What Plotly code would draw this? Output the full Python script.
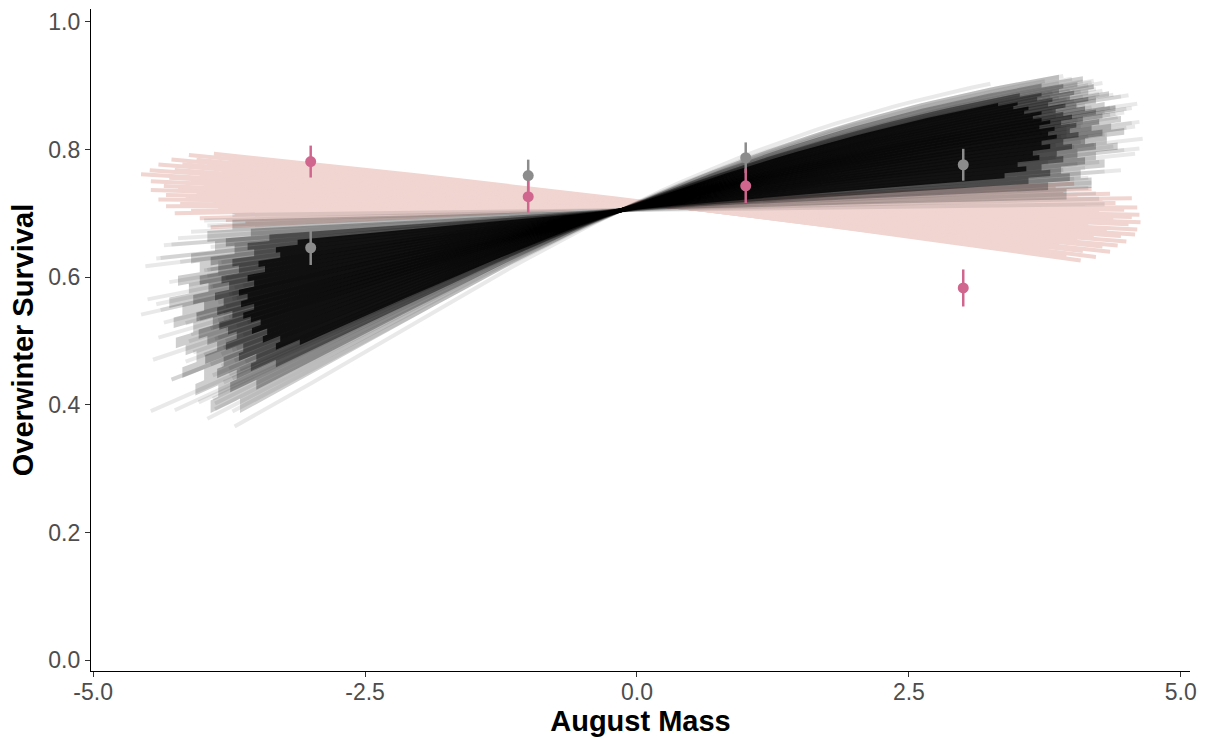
import numpy as np
import plotly.graph_objects as go

# ---------------- data ----------------
# observed means with error bars
obs_x = [-3, -1, 1, 3]
pink_obs_y = [0.781, 0.726, 0.743, 0.583]
pink_obs_err = [0.025, 0.025, 0.027, 0.029]
grey_obs_y = [0.646, 0.759, 0.787, 0.776]
grey_obs_err = [0.027, 0.025, 0.024, 0.025]

# posterior draws (logit scale: a + b*(x - centre)), with each draw's x-extent
centre_x = -0.15
black_a = 0.871
black_b = [0.19, 0.22, 0.15, 0.27, 0.11, 0.24, 0.18, 0.31, 0.09, 0.21,
           0.16, 0.26, 0.13, 0.20, 0.29, 0.07, 0.23, 0.17, 0.34, 0.12,
           0.25, 0.19, 0.05, 0.28, 0.14, 0.22, 0.36, 0.10, 0.18, 0.30,
           0.16, 0.03, 0.24, 0.20, 0.33, 0.08, 0.26, 0.13, 0.21, 0.40,
           0.15, 0.27, 0.11, 0.19, 0.01, 0.23, 0.32, 0.17, 0.06, 0.25,
           0.14, 0.29, 0.20, 0.10, 0.35, 0.18, 0.22, 0.04, 0.28, 0.12,
           0.24, 0.16, 0.31, 0.09, 0.21, 0.305, 0.13, 0.26, 0.19, 0.07,
           0.23, 0.15, 0.30, 0.11, 0.27, 0.02, 0.18, 0.325, 0.20, 0.14,
           0.25, 0.08, 0.22, 0.17, 0.29, 0.12, 0.37, 0.21, 0.16, 0.06]
black_xmin = [-3.85, -4.12, -3.70, -4.28, -3.95, -3.62, -4.35, -3.80, -4.20, -3.92,
              -4.56, -3.72, -4.02, -3.85, -3.75, -3.92, -4.45, -3.68, -3.88, -4.30,
              -3.98, -3.80, -4.22, -3.70, -4.50, -3.58, -3.95, -3.82, -4.05, -3.65,
              -4.38, -3.95, -3.78, -3.75, -3.90, -4.42, -3.68, -4.12, -3.85, -3.70,
              -3.62, -3.92, -3.98, -4.15, -3.72, -3.85, -4.25, -3.72, -4.35, -3.80,
              -3.90, -3.60, -4.40, -3.85, -3.88, -3.78, -3.68, -4.10, -3.82, -3.95,
              -4.08, -3.75, -3.72, -4.52, -3.90, -4.47, -3.78, -3.82, -4.02, -3.70,
              -3.88, -4.42, -3.75, -3.92, -4.28, -3.98, -3.65, -4.03, -3.80, -3.92,
              -4.15, -4.38, -3.78, -3.85, -3.90, -3.85, -3.72, -4.10, -3.72, -4.28]
black_xmax = [4.10, 3.85, 4.32, 3.95, 4.48, 4.05, 3.72, 4.15, 4.25, 4.55,
              3.90, 4.22, 4.02, 4.40, 3.80, 4.30, 4.12, 4.62, 3.88, 3.68,
              4.45, 3.98, 4.18, 4.28, 4.08, 4.35, 3.75, 4.58, 3.95, 4.20,
              4.50, 4.22, 3.82, 4.05, 4.10, 3.92, 4.38, 4.65, 4.00, 3.25,
              4.15, 4.25, 3.85, 4.42, 4.30, 3.70, 4.18, 4.55, 4.02, 3.92,
              4.32, 4.08, 4.48, 3.78, 4.00, 4.25, 4.60, 4.15, 3.88, 4.38,
              4.12, 3.95, 4.28, 4.05, 4.50, 3.82, 4.20, 4.02, 3.90, 4.45,
              4.18, 4.30, 3.98, 4.62, 4.10, 4.25, 4.08, 4.20, 4.35, 3.85,
              4.52, 4.12, 4.40, 3.95, 4.22, 4.05, 3.92, 4.30, 4.58, 4.15]

# nested central bands of the black draws: bounding slopes of each thin strip
# and where each strip ends on the left / right
band_slopes = [
    [0.020, 0.040, 0.060, 0.078, 0.095, 0.112, 0.128, 0.144, 0.160, 0.176, 0.192,
     0.208, 0.224, 0.240, 0.257, 0.274, 0.292, 0.311, 0.331, 0.353, 0.380],
    [0.040, 0.056, 0.072, 0.088, 0.103, 0.118, 0.133, 0.148, 0.163, 0.178, 0.192,
     0.206, 0.221, 0.236, 0.251, 0.266, 0.282, 0.298, 0.315, 0.333, 0.352],
    [0.055, 0.069, 0.083, 0.097, 0.111, 0.125, 0.138, 0.152, 0.165, 0.178, 0.191,
     0.204, 0.217, 0.230, 0.243, 0.256, 0.270, 0.284, 0.298, 0.312, 0.327],
    [0.072, 0.084, 0.096, 0.108, 0.120, 0.132, 0.144, 0.156, 0.167, 0.178, 0.189,
     0.200, 0.211, 0.222, 0.233, 0.244, 0.256, 0.268, 0.280, 0.292, 0.304]]
band_left = [
    [-3.72, -3.95, -3.88, -4.10, -4.02, -4.22, -4.12, -4.30, -4.18, -4.26,
     -4.08, -4.24, -4.15, -4.05, -4.18, -3.98, -4.06, -3.85, -3.92, -3.65],
    [-3.55, -3.78, -3.70, -3.92, -3.85, -4.02, -3.94, -4.08, -3.98, -4.05,
     -3.90, -4.03, -3.95, -3.86, -3.97, -3.80, -3.86, -3.68, -3.74, -3.50],
    [-3.38, -3.58, -3.52, -3.72, -3.66, -3.82, -3.75, -3.88, -3.80, -3.86,
     -3.72, -3.84, -3.76, -3.68, -3.78, -3.62, -3.66, -3.50, -3.55, -3.32],
    [-3.12, -3.32, -3.28, -3.48, -3.42, -3.58, -3.52, -3.66, -3.58, -3.64,
     -3.52, -3.62, -3.55, -3.46, -3.54, -3.40, -3.44, -3.28, -3.32, -3.10]]
band_right = [
    [3.95, 4.18, 4.08, 4.30, 4.22, 4.42, 4.32, 4.48, 4.36, 4.45,
     4.28, 4.40, 4.30, 4.22, 4.34, 4.15, 4.20, 4.05, 4.10, 3.88],
    [3.78, 3.98, 3.90, 4.12, 4.05, 4.22, 4.12, 4.28, 4.18, 4.25,
     4.10, 4.22, 4.12, 4.04, 4.15, 3.98, 4.02, 3.88, 3.92, 3.72],
    [3.60, 3.80, 3.72, 3.92, 3.86, 4.00, 3.92, 4.06, 3.98, 4.04,
     3.90, 4.00, 3.92, 3.85, 3.94, 3.78, 3.82, 3.68, 3.72, 3.52],
    [3.38, 3.58, 3.50, 3.70, 3.64, 3.80, 3.72, 3.86, 3.78, 3.84,
     3.70, 3.80, 3.72, 3.64, 3.72, 3.56, 3.60, 3.46, 3.50, 3.32]]

pink_a = [0.955, 0.950, 0.948, 0.945, 0.942, 0.940, 0.938, 0.936, 0.934, 0.932,
          0.930, 0.929, 0.928, 0.926, 0.925, 0.924, 0.923, 0.922, 0.921, 0.920,
          0.919, 0.918, 0.917, 0.916, 0.915, 0.914, 0.913, 0.912, 0.911, 0.910,
          0.909, 0.908, 0.907, 0.906, 0.905, 0.904]
pink_b = [-0.104, -0.100, -0.097, -0.093, -0.089, -0.085, -0.081, -0.077, -0.073, -0.069,
          -0.065, -0.061, -0.057, -0.053, -0.049, -0.045, -0.041, -0.037, -0.033, -0.029,
          -0.025, -0.021, -0.017, -0.013, -0.009, -0.005, -0.001, 0.003, 0.007, 0.011,
          0.015, 0.020, 0.025, 0.030, 0.036, 0.042]
pink_xmin = [-3.89, -3.62, -4.12, -3.75, -4.05, -4.28, -3.95, -4.18, -4.40, -3.82,
             -4.25, -4.48, -4.02, -4.56, -4.30, -4.10, -4.47, -3.98, -4.35, -4.22,
             -4.47, -4.05, -4.33, -4.15, -4.40, -3.90, -4.20, -4.33, -3.85, -4.10,
             -4.25, -3.70, -4.02, -3.78, -3.60, -3.92]
pink_xmax = [4.08, 3.55, 3.95, 4.22, 3.78, 4.10, 4.35, 3.88, 4.28, 4.42,
             4.05, 4.50, 4.20, 4.45, 4.58, 4.32, 4.60, 4.15, 4.52, 4.63,
             4.38, 4.55, 4.62, 4.25, 4.48, 4.60, 4.12, 4.40, 4.28, 4.55,
             4.05, 4.35, 3.92, 4.18, 3.85, 4.02]

x_ticks = [-5.0, -2.5, 0.0, 2.5, 5.0]
x_tick_text = ["-5.0", "-2.5", "0.0", "2.5", "5.0"]
y_ticks = [0.0, 0.2, 0.4, 0.6, 0.8, 1.0]
y_tick_text = ["0.0", "0.2", "0.4", "0.6", "0.8", "1.0"]

# ---------------- styles ----------------
PINK_LINE = "rgb(240,213,209)"
BLACK_LINE = "rgba(0,0,0,0.085)"
BAND_OPACITY = [0.20, 0.28, 0.42, 0.85]
PINK_PT = "#D0668E"
GREY_PT = "#8C8C8C"
FONT = "Liberation Sans, Arial, Helvetica, sans-serif"


def inv_logit(z):
    return 1.0 / (1.0 + np.exp(-z))


def prob(a, b, x):
    return inv_logit(a + b * (np.asarray(x, dtype=float) - centre_x))


def seg(a, b, x0, x1, n=10):
    xs = np.linspace(x0, x1, n)
    return list(xs), list(prob(a, b, xs))


fig = go.Figure()

# pink posterior draws
for a, b, x0, x1 in zip(pink_a, pink_b, pink_xmin, pink_xmax):
    xs, ys = seg(a, b, x0, x1, 40)
    fig.add_trace(go.Scatter(x=xs, y=ys, mode="lines", hoverinfo="skip",
                             line=dict(color=PINK_LINE, width=4), showlegend=False))

# black central bands, outlined as a staircase so each strip ends at its own x
for slopes, lefts, rights, op in zip(band_slopes, band_left, band_right, BAND_OPACITY):
    n = len(slopes)
    px, py = seg(black_a, slopes[0], lefts[0], rights[0], 60)
    for k in range(1, n - 1):                      # right-hand staircase
        sx, sy = seg(black_a, slopes[k], rights[k - 1], rights[k])
        px += sx
        py += sy
    sx, sy = seg(black_a, slopes[n - 1], rights[n - 2], lefts[n - 2], 60)
    px += sx
    py += sy
    for k in range(n - 2, 0, -1):                  # left-hand staircase
        sx, sy = seg(black_a, slopes[k], lefts[k], lefts[k - 1])
        px += sx
        py += sy
    fig.add_trace(go.Scatter(x=px, y=py, mode="lines", fill="toself",
                             fillcolor=f"rgba(10,10,10,{op})", line=dict(width=0),
                             hoverinfo="skip", showlegend=False))

# black posterior draws
for b, x0, x1 in zip(black_b, black_xmin, black_xmax):
    xs, ys = seg(black_a, b, x0, x1, 40)
    fig.add_trace(go.Scatter(x=xs, y=ys, mode="lines", hoverinfo="skip",
                             line=dict(color=BLACK_LINE, width=4), showlegend=False))

# observed points
fig.add_trace(go.Scatter(x=obs_x, y=grey_obs_y, mode="markers", showlegend=False,
                         marker=dict(color=GREY_PT, size=11),
                         error_y=dict(type="data", array=grey_obs_err, color=GREY_PT,
                                      thickness=2.5, width=0)))
fig.add_trace(go.Scatter(x=obs_x, y=pink_obs_y, mode="markers", showlegend=False,
                         marker=dict(color=PINK_PT, size=11),
                         error_y=dict(type="data", array=pink_obs_err, color=PINK_PT,
                                      thickness=2.5, width=0)))

axis_common = dict(showgrid=False, zeroline=False, showline=True, linecolor="black",
                   linewidth=1.3, ticks="outside", ticklen=5, tickwidth=1.2,
                   tickcolor="#333333", automargin=False,
                   tickfont=dict(family=FONT, size=23, color="#4D4D4D"))

fig.update_layout(
    width=1208, height=740,
    margin=dict(l=91, r=18, t=9, b=69),
    plot_bgcolor="white", paper_bgcolor="white",
    xaxis=dict(range=[-5.02, 5.085], tickvals=x_ticks, ticktext=x_tick_text,
               ticklabelstandoff=-5,
               title=dict(text="<b>August Mass</b>", standoff=4,
                          font=dict(family=FONT, size=29, color="black")),
               **axis_common),
    yaxis=dict(range=[-0.017, 1.02], tickvals=y_ticks, ticktext=y_tick_text,
               title=dict(text="<b>Overwinter Survival</b>", standoff=6,
                          font=dict(family=FONT, size=29, color="black")),
               **axis_common),
)

fig.write_html("out.html", config={"displayModeBar": False},
               post_script="document.body.style.margin='0px';"
                           "document.body.style.overflow='hidden';")
